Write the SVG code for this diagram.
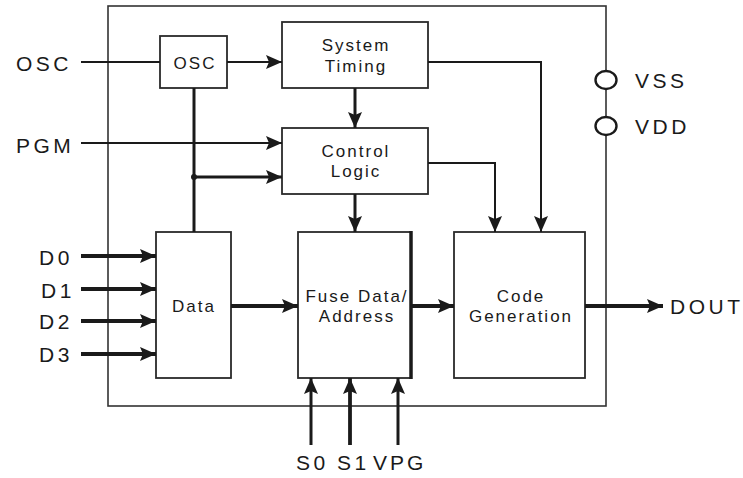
<svg xmlns="http://www.w3.org/2000/svg" width="743" height="478" viewBox="0 0 743 478">
<style>
.box{fill:#fff;stroke:#2a2a2a;stroke-width:1.8}
.outer{fill:none;stroke:#333;stroke-width:1.6}
.c{fill:none;stroke:#1a1a1a;stroke-linejoin:miter}
.t1{stroke-width:2}
.t2{stroke-width:3}
.t3{stroke-width:3.8}
.lbl{font-family:"Liberation Sans",Arial,sans-serif;font-size:21px;letter-spacing:3.5px;fill:#1a1a1a}
.in{font-family:"Liberation Sans",Arial,sans-serif;font-size:17px;letter-spacing:2px;fill:#1a1a1a;text-anchor:middle}
</style>
<defs>
<marker id="ah" markerUnits="userSpaceOnUse" markerWidth="17" markerHeight="15" viewBox="0 0 17 15" refX="16" refY="7.5" orient="auto">
<path d="M0,0.5 L16,7.5 L0,14.5 L3,7.5 Z" fill="#1a1a1a"/>
</marker>
</defs>
<rect class="outer" x="108" y="6" width="498" height="400"/>
<g id="n-osc"><rect class="box" x="160" y="36" width="67" height="52"/><text class="in" x="195" y="69">OSC</text></g>
<g id="n-timing"><rect class="box" x="282" y="22" width="146" height="66"/><text class="in" x="356" y="51">System</text><text class="in" x="356" y="72">Timing</text></g>
<g id="n-control"><rect class="box" x="282" y="128" width="146" height="66"/><text class="in" x="356" y="157">Control</text><text class="in" x="356" y="177">Logic</text></g>
<g id="n-data"><rect class="box" x="156" y="232" width="75" height="146"/><text class="in" x="194" y="312">Data</text></g>
<g id="n-fuse"><rect class="box" x="298" y="232" width="113" height="146"/><line x1="411" y1="231" x2="411" y2="379" stroke="#1a1a1a" stroke-width="3.5"/><text class="in" x="357" y="302">Fuse Data/</text><text class="in" x="357" y="322">Address</text></g>
<g id="n-code"><rect class="box" x="454" y="232" width="131" height="146"/><text class="in" x="521" y="302">Code</text><text class="in" x="521" y="322">Generation</text></g>
<g id="n-power">
<ellipse cx="606" cy="80" rx="10.5" ry="9" fill="#fff" stroke="#1a1a1a" stroke-width="2.4"/>
<ellipse cx="606" cy="126" rx="10.5" ry="9" fill="#fff" stroke="#1a1a1a" stroke-width="2.4"/>
<text class="lbl" x="635" y="88">VSS</text>
<text class="lbl" x="635" y="134">VDD</text>
</g>
<g id="labels">
<text class="lbl" x="16" y="71">OSC</text>
<text class="lbl" x="16" y="153">PGM</text>
<text class="lbl" x="39" y="265">D0</text>
<text class="lbl" x="41" y="298">D1</text>
<text class="lbl" x="39" y="329">D2</text>
<text class="lbl" x="39" y="362">D3</text>
<text class="lbl" x="296" y="470">S0</text>
<text class="lbl" x="337" y="470">S1</text>
<text class="lbl" x="373" y="470" style="letter-spacing:3px">VPG</text>
<text class="lbl" x="670" y="314">DOUT</text>
</g>
<g id="connectors">
<line class="c t1" x1="81" y1="62" x2="160" y2="62"/>
<line class="c t1" x1="227" y1="62" x2="282" y2="62" marker-end="url(#ah)"/>
<line class="c t1" x1="81" y1="143" x2="282" y2="143" marker-end="url(#ah)"/>
<line class="c t2" x1="194" y1="88" x2="194" y2="232"/>
<circle cx="194" cy="177" r="3" fill="#1a1a1a"/>
<line class="c t2" x1="194" y1="177" x2="282" y2="177" marker-end="url(#ah)"/>
<line class="c t2" x1="355" y1="88" x2="355" y2="128" marker-end="url(#ah)"/>
<line class="c t2" x1="355" y1="194" x2="355" y2="232" marker-end="url(#ah)"/>
<polyline class="c t1" points="428,62 541,62 541,232" marker-end="url(#ah)"/>
<polyline class="c t1" points="428,163 495,163 495,232" marker-end="url(#ah)"/>
<line class="c t3" x1="81" y1="256" x2="156" y2="256" marker-end="url(#ah)"/>
<line class="c t3" x1="81" y1="289" x2="156" y2="289" marker-end="url(#ah)"/>
<line class="c t3" x1="81" y1="321" x2="156" y2="321" marker-end="url(#ah)"/>
<line class="c t3" x1="81" y1="354" x2="156" y2="354" marker-end="url(#ah)"/>
<line class="c t3" x1="231" y1="306" x2="298" y2="306" marker-end="url(#ah)"/>
<line class="c t3" x1="411" y1="306" x2="454" y2="306" marker-end="url(#ah)"/>
<line class="c t3" x1="585" y1="306" x2="663" y2="306" marker-end="url(#ah)"/>
<line class="c t2" x1="311" y1="445" x2="311" y2="378" marker-end="url(#ah)"/>
<line class="c t3" x1="350" y1="445" x2="350" y2="378" marker-end="url(#ah)"/>
<line class="c t2" x1="398" y1="445" x2="398" y2="378" marker-end="url(#ah)"/>
</g>
</svg>
